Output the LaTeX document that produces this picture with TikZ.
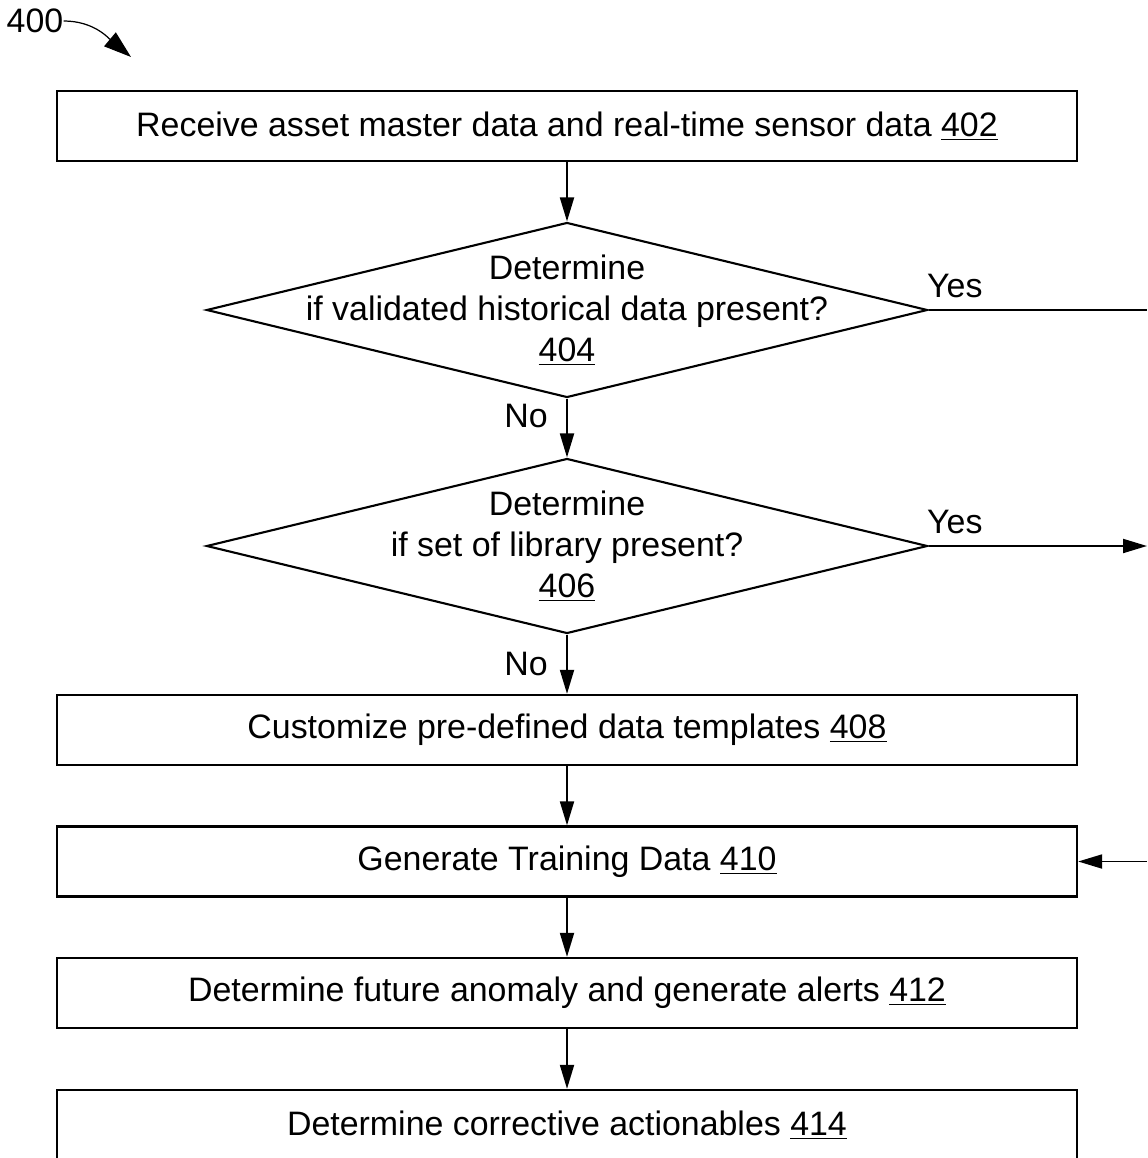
\documentclass[tikz,border=0pt]{standalone}
\usepackage{fontspec}
\setmainfont{Liberation Sans}
\usetikzlibrary{arrows.meta,shapes.geometric}
\tikzset{box/.style={draw,line width=1.3pt,minimum width=20.4cm,minimum height=1.4cm,inner sep=0pt},
  decision/.style={draw,diamond,line width=1.2pt,minimum width=14.42cm,minimum height=3.5cm,inner sep=0pt},
  txt/.style={align=center,inner sep=0pt},
  arr/.style={-{Triangle[length=4.8mm,width=2.8mm]},line width=1.1pt},
  ptr/.style={-{Triangle[length=5.5mm,width=3.6mm]},line width=0.7pt}}
\begin{document}
\begin{tikzpicture}[font=\fontsize{19.3}{23.3}\selectfont]
\useasboundingbox (0,0) rectangle (22.94,-23.16);
\clip (0,0) rectangle (22.94,-23.16);
\node[txt] (n400) at (0.7,-0.42){400};
\coordinate (a400) at (2.62,-1.14);
\node[box] (b402) at (11.34,-2.52){Receive asset master data and real-time sensor data \underline{402}};
\node[decision] (d404) at (11.34,-6.2){};
\node[txt] (t404) at (d404){Determine\\if validated historical data present?\\\underline{404}};
\node[decision] (d406) at (11.34,-10.92){};
\node[txt] (t406) at (d406){Determine\\if set of library present?\\\underline{406}};
\node[box] (b408) at (11.34,-14.6){Customize pre-defined data templates \underline{408}};
\node[box] (b410) at (11.34,-17.23){Generate Training Data \underline{410}};
\node[box] (b412) at (11.34,-19.86){Determine future anomaly and generate alerts \underline{412}};
\node[box] (b414) at (11.34,-22.5){Determine corrective actionables \underline{414}};
\coordinate (e404) at (22.94,-6.2);
\coordinate (e406) at (22.94,-10.92);
\coordinate (e410) at (22.94,-17.23);
\draw[ptr] (n400.east) to[out=0,in=140] (a400);
\draw[arr] (b402)--(d404);
\draw[arr] (d404)--node[left=0.25cm,pos=0.3]{No}(d406);
\draw[arr] (d406)--node[left=0.25cm,pos=0.5]{No}(b408);
\draw[arr] (b408)--(b410);
\draw[arr] (b410)--(b412);
\draw[arr] (b412)--(b414);
\draw[line width=1.1pt] (d404.east)--node[above=0.1cm,pos=0.12]{Yes}(e404);
\draw[arr] (d406.east)--node[above=0.1cm,pos=0.12]{Yes}(e406);
\draw[arr] (e410)--(b410);
\end{tikzpicture}
\end{document}
